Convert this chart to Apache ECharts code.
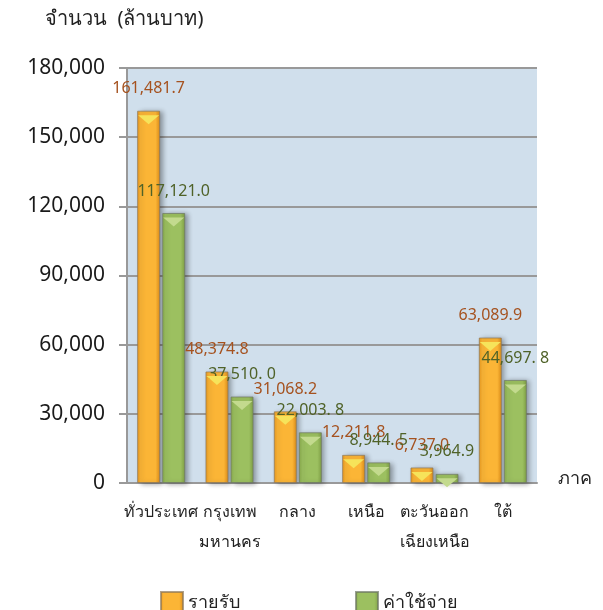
<!DOCTYPE html>
<html><head><meta charset="utf-8">
<script src="https://cdn.jsdelivr.net/npm/echarts@6/dist/echarts.min.js"></script>
<style>html,body{margin:0;padding:0;background:#fff}#c{width:603px;height:610px}</style>
</head><body><div id="c"></div>
<script>
const categories = ['ทั่วประเทศ', 'กรุงเทพ\nมหานคร', 'กลาง', 'เหนือ', 'ตะวันออก\nเฉียงเหนือ', 'ใต้'];
const incomeValues = [161481.7, 48374.8, 31068.2, 12211.8, 6737.0, 63089.9];
const expenseValues = [117121.0, 37510.0, 22003.8, 8944.5, 3964.9, 44697.8];
const incomeLabels = ['161,481.7', '48,374.8', '31,068.2', '12,211.8', '6,737.0', '63,089.9'];
const expenseLabels = ['117,121.0', '37,510. 0', '22,003. 8', '8,944. 5', '3,964.9', '44,697. 8'];
const seriesNames = ['รายรับ', 'ค่าใช้จ่าย'];
const yTitle = 'จำนวน  (ล้านบาท)';
const xTitle = 'ภาค';

const FONT = '"Noto Sans", "DejaVu Sans", sans-serif';
const chart = echarts.init(document.getElementById('c'), null, {renderer: 'canvas'});

function grad(c1, c2, c3) {
  return new echarts.graphic.LinearGradient(0, 0, 1, 0, [
    {offset: 0, color: c1}, {offset: 0.15, color: c2}, {offset: 0.8, color: c2}, {offset: 1, color: c3}
  ]);
}
const TRI = 'path://M0,0 L20,0 L10,8 Z';

chart.setOption({
  animation: false,
  textStyle: {fontFamily: FONT},
  grid: {left: 127, right: 66, top: 68, bottom: 127, show: true, backgroundColor: '#d0dfec', borderWidth: 0},
  graphic: [
    {type: 'text', left: 45, top: 9, style: {text: yTitle, font: '20px ' + FONT, fill: '#222'}},
    {type: 'text', left: 558, top: 470, style: {text: xTitle, font: '18px ' + FONT, fill: '#222'}}
  ],
  legend: {
    data: seriesNames, left: 155, top: 586, itemWidth: 22, itemHeight: 22, itemGap: 115,
    icon: 'rect', textStyle: {fontSize: 18, color: '#222', fontFamily: FONT}
  },
  xAxis: {
    type: 'category', data: categories,
    axisLine: {lineStyle: {color: '#999', width: 2}},
    axisTick: {show: false},
    axisLabel: {color: '#222', fontSize: 16, margin: 14, lineHeight: 30, interval: 0, fontFamily: FONT}
  },
  yAxis: {
    type: 'value', min: 0, max: 180000, interval: 30000,
    axisLine: {show: true, lineStyle: {color: '#999', width: 2}},
    axisTick: {show: true, length: 8, lineStyle: {color: '#999', width: 2}},
    splitLine: {lineStyle: {color: '#999', width: 2}},
    axisLabel: {color: '#1a1a1a', fontSize: 21, margin: 22, fontFamily: FONT,
      formatter: v => v.toLocaleString('en-US')}
  },
  series: [
    {
      name: seriesNames[0], type: 'bar', data: incomeValues, barWidth: 23, barGap: '9%',
      itemStyle: {color: grad('#e8961c', '#fbb536', '#d98a18'), borderColor: 'rgba(140,120,90,0.7)', borderWidth: 1,
        shadowColor: 'rgba(0,0,0,0.35)', shadowBlur: 5, shadowOffsetX: 3, shadowOffsetY: 1},
      label: {show: true, position: 'top', distance: 14, color: '#a5521f', fontSize: 16, fontFamily: FONT,
        formatter: p => incomeLabels[p.dataIndex]}
    },
    {
      name: seriesNames[1], type: 'bar', data: expenseValues, barWidth: 23, barGap: '9%',
      itemStyle: {color: grad('#86a84a', '#9cc060', '#7f9f45'), borderColor: 'rgba(110,120,100,0.7)', borderWidth: 1,
        shadowColor: 'rgba(0,0,0,0.35)', shadowBlur: 5, shadowOffsetX: 3, shadowOffsetY: 1},
      label: {show: true, position: 'top', distance: 14, color: '#4f6228', fontSize: 16, fontFamily: FONT,
        formatter: p => expenseLabels[p.dataIndex]}
    },
    {
      type: 'pictorialBar', data: incomeValues, barWidth: 23, barGap: '9%', symbol: TRI,
      symbolSize: [21, 9], symbolPosition: 'end', symbolOffset: [0, '50%'], z: 3, silent: true,
      itemStyle: {color: '#f6e35a'}
    },
    {
      type: 'pictorialBar', data: expenseValues, barWidth: 23, barGap: '9%', symbol: TRI,
      symbolSize: [21, 9], symbolPosition: 'end', symbolOffset: [0, '50%'], z: 3, silent: true,
      itemStyle: {color: '#c3da8e'}
    }
  ]
});
</script></body></html>
